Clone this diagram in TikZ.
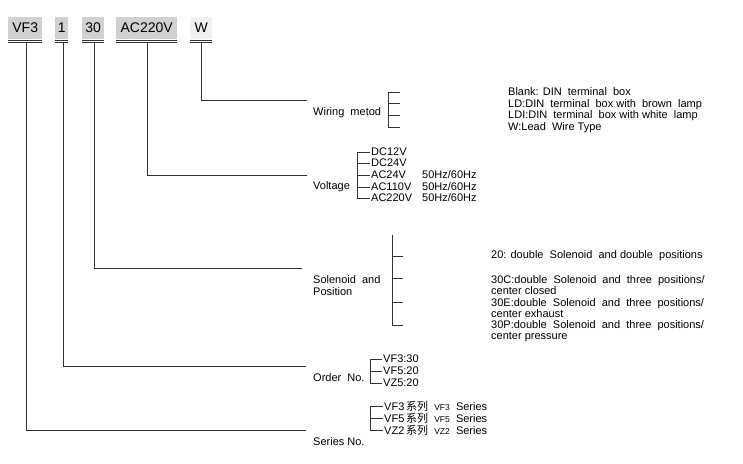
\documentclass[tikz,border=0pt]{standalone}
\usepackage{fontspec}
\setmainfont{Liberation Sans}
\newfontfamily\cjk{Noto Sans CJK SC}
\begin{document}
\begin{tikzpicture}[x=1pt,y=-1pt,
  ln/.style={draw=black!80,line width=0.8pt},
  code/.style={fill=black!18,inner sep=1.5pt,font=\fontsize{14}{14}\selectfont,minimum height=22pt,anchor=west},
  lab/.style={anchor=west,inner sep=0pt,font=\fontsize{11}{12}\selectfont},
  txt/.style={anchor=west,inner sep=0pt,font=\fontsize{11}{11.5}\selectfont,align=left}]
\useasboundingbox (0,0) rectangle (743,463);
% top codes
\node[code,minimum width=34pt] (c1) at (8,28) {VF3};
\node[code,minimum width=13pt] (c2) at (55,28) {1};
\node[code,minimum width=22pt] (c3) at (82,28) {30};
\node[code,minimum width=61pt] (c4) at (116,28) {AC220V};
\node[code,minimum width=22pt,fill=black!6] (c5) at (190,28) {W};
\foreach \a/\b in {8/42,55/68,82/104,116/177,190/212}{
  \draw[ln,line width=0.6pt] (\a,40) -- (\b,40) (\a,42.5) -- (\b,42.5);
}
% labels
\node[lab] (wm) at (313,113) {Wiring\ \ metod};
\node[lab] (vo) at (313,187) {Voltage};
\node[lab,align=left] (sp) at (313,286) {Solenoid\ \ and\\Position};
\node[lab] (on) at (313,378) {Order\ \ No.};
\node[lab] (sn) at (313,442) {Series No.};
% connectors
\coordinate (w1) at (201,43); \coordinate (w2) at (201,100); \coordinate (w3) at (307,100);
\draw[ln] (w1) -- (w2) -- (w3);
\coordinate (v1) at (147,43); \coordinate (v2) at (147,175); \coordinate (v3) at (307,175);
\draw[ln] (v1) -- (v2) -- (v3);
\coordinate (s1) at (94,43); \coordinate (s2) at (94,268); \coordinate (s3) at (302,268);
\draw[ln] (s1) -- (s2) -- (s3);
\coordinate (o1) at (63,43); \coordinate (o2) at (63,366); \coordinate (o3) at (306,366);
\draw[ln] (o1) -- (o2) -- (o3);
\coordinate (r1) at (26,43); \coordinate (r2) at (26,430); \coordinate (r3) at (306,430);
\draw[ln] (r1) -- (r2) -- (r3);
% wiring bracket
\draw[ln] (388,92) -- (388,127);
\foreach \y in {92,103,115,127}{\draw[ln] (388,\y) -- (400,\y);}
\node[txt] (wt) at (508,110) {Blank: DIN\ \ terminal\ \ box\\LD:DIN\ \ terminal\ \ box with\ \ brown\ \ lamp\\LDI:DIN\ \ terminal\ \ box with white\ \ lamp\\W:Lead\ \ Wire Type};
% voltage bracket
\draw[ln] (357,152) -- (357,199);
\foreach \y/\t in {152/DC12V,163/DC24V,175/AC24V,187/AC110V,198/AC220V}{
  \draw[ln] (357,\y) -- (370,\y);
  \node[txt] at (371,\y) {\t};}
\foreach \y in {175,187,198}{\node[txt] at (422,\y) {50Hz/60Hz};}
% solenoid bracket
\draw[ln] (392,235) -- (392,325);
\foreach \y in {256,278,302,325}{\draw[ln] (392,\y) -- (403,\y);}
\node[txt] at (491,256) {20: double\ \ Solenoid\ \ and double\ \ positions};
\node[txt] at (491,285) {30C:double\ \ Solenoid\ \ and\ \ three\ \ positions/\\center closed};
\node[txt] at (491,308) {30E:double\ \ Solenoid\ \ and\ \ three\ \ positions/\\center exhaust};
\node[txt] at (491,331) {30P:double\ \ Solenoid\ \ and\ \ three\ \ positions/\\center pressure};
% order bracket
\draw[ln] (370,359) -- (370,383);
\foreach \y/\t in {359/VF3:30,371/VF5:20,383/VZ5:20}{
  \draw[ln] (370,\y) -- (382,\y);
  \node[txt] at (383,\y) {\t};}
% series bracket
\draw[ln] (370,406) -- (370,430);
\foreach \y/\a/\b in {406/VF3/VF3,418/VF5/VF5,430/VZ2/VZ2}{
  \draw[ln] (370,\y) -- (383,\y);
  \node[txt] at (384,\y) {\a\,{\cjk 系列}\ \ {\fontsize{8.5}{9}\selectfont\b}\ \ Series};}
\end{tikzpicture}
\end{document}
